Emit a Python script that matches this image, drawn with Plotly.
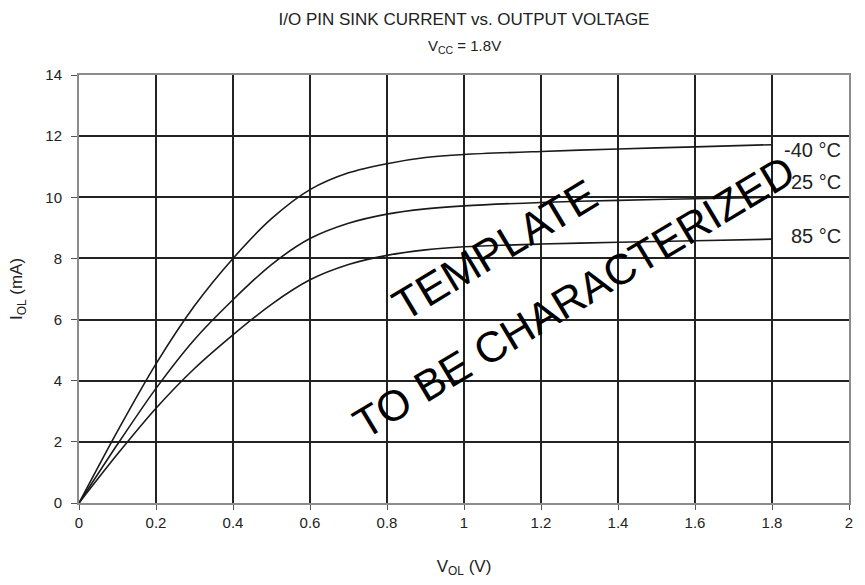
import plotly.graph_objects as go

# Output low voltage (V) and sink current (mA) per temperature
v_ol = [0, 0.1, 0.2, 0.3, 0.4, 0.5, 0.6, 0.7, 0.8, 0.9, 1.0, 1.2, 1.4, 1.6, 1.8]
i_m40 = [0, 2.35, 4.55, 6.45, 8.0, 9.3, 10.25, 10.8, 11.1, 11.3, 11.4, 11.5, 11.58, 11.65, 11.72]
i_25 = [0, 1.92, 3.75, 5.35, 6.65, 7.8, 8.65, 9.15, 9.45, 9.62, 9.72, 9.83, 9.9, 9.95, 10.0]
i_85 = [0, 1.6, 3.1, 4.4, 5.5, 6.5, 7.3, 7.8, 8.1, 8.28, 8.38, 8.47, 8.53, 8.58, 8.63]

series = [("-40 °C", i_m40, 11.55), ("25 °C", i_25, 10.5), ("85 °C", i_85, 8.75)]

FONT = "Liberation Sans, Arial, sans-serif"

fig = go.Figure()
for name, vals, label_y in series:
    fig.add_trace(go.Scatter(
        x=v_ol, y=vals, mode="lines", name=name,
        line=dict(color="#1a1a1a", width=1.6, shape="spline", smoothing=0.8),
        showlegend=False,
    ))
    fig.add_annotation(
        x=1.985, y=label_y, xref="x", yref="y", text=name, showarrow=False,
        xanchor="right", yanchor="middle",
        font=dict(family=FONT, size=20, color="#222"),
    )

# Watermark text
fig.add_annotation(x=1.08, y=8.3, xref="x", yref="y", text="TEMPLATE",
                   showarrow=False, textangle=-31,
                   font=dict(family=FONT, size=44, color="#000"))
fig.add_annotation(x=1.285, y=6.75, xref="x", yref="y", text="TO BE CHARACTERIZED",
                   showarrow=False, textangle=-31,
                   font=dict(family=FONT, size=43, color="#000"))

fig.add_annotation(x=0.5, y=1, xref="paper", yref="paper", yshift=40,
                   text="V<sub>CC</sub> = 1.8V", showarrow=False,
                   font=dict(family=FONT, size=15, color="#222"))

fig.update_layout(
    width=865, height=585,
    margin=dict(l=79, r=12, t=75, b=82),
    paper_bgcolor="white", plot_bgcolor="white",
    font=dict(family=FONT, size=15, color="#222"),
    title=dict(text="I/O PIN SINK CURRENT vs. OUTPUT VOLTAGE",
               x=0.5, xref="paper", xanchor="center",
               y=1, yref="container", yanchor="top", pad=dict(t=13),
               font=dict(family=FONT, size=17, color="#222")),
)

fig.update_xaxes(
    range=[0, 2], tickmode="array",
    tickvals=[0, 0.2, 0.4, 0.6, 0.8, 1, 1.2, 1.4, 1.6, 1.8, 2],
    ticktext=["0", "0.2", "0.4", "0.6", "0.8", "1", "1.2", "1.4", "1.6", "1.8", "2"],
    showgrid=True, gridcolor="#222", gridwidth=1.5, zeroline=False,
    showline=True, linecolor="#8c8c8c", linewidth=2, mirror=True,
    ticks="outside", ticklen=5, tickcolor="#555", ticklabelstandoff=0,
    tickfont=dict(size=15),
    title=dict(text="V<sub>OL</sub> (V)", standoff=30, font=dict(size=17)),
)
fig.update_yaxes(
    range=[0, 14], tickmode="array",
    tickvals=[0, 2, 4, 6, 8, 10, 12, 14],
    showgrid=True, gridcolor="#222", gridwidth=1.5, zeroline=False,
    showline=True, linecolor="#8c8c8c", linewidth=2, mirror=True,
    ticks="outside", ticklen=6, tickcolor="#555", ticklabelstandoff=6,
    tickfont=dict(size=15),
    title=dict(text="I<sub>OL</sub> (mA)", standoff=18, font=dict(size=17)),
)

fig.write_html("out.html")
